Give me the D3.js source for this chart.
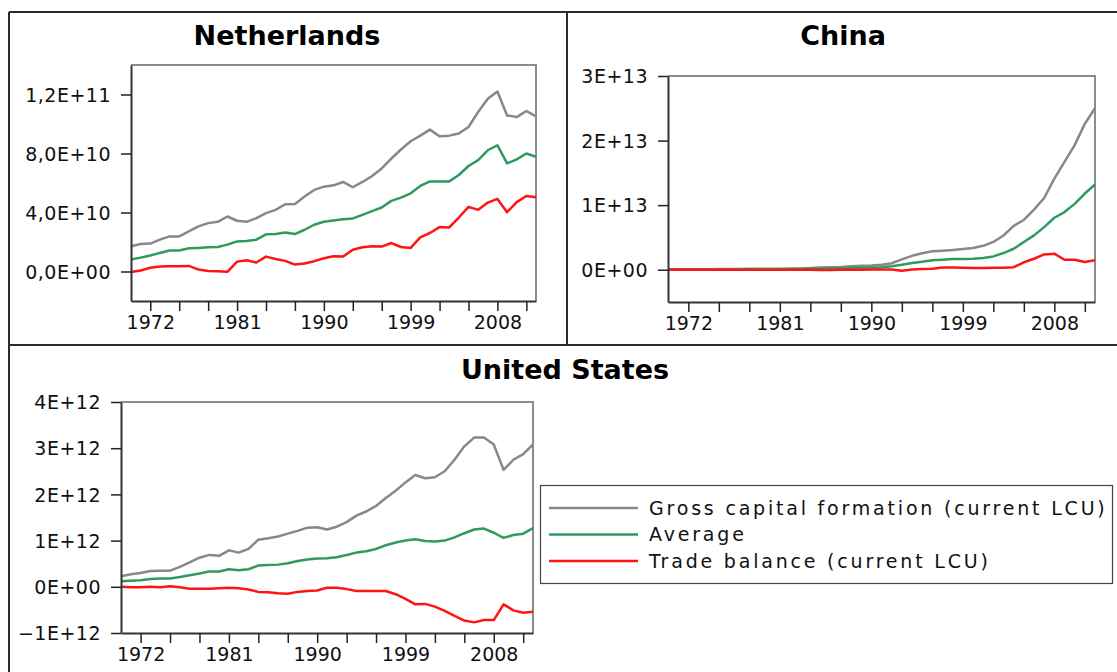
<!DOCTYPE html>
<html>
<head>
<meta charset="utf-8">
<script src="https://cdn.jsdelivr.net/npm/d3@7/dist/d3.min.js"></script>
<style>
  html, body { margin: 0; padding: 0; background: #ffffff; }
  svg { display: block; font-family: "DejaVu Sans", "Noto Sans", sans-serif; }
</style>
</head>
<body>
<svg id="chart" width="1117" height="672"></svg>
<script>
// ---------------- DATA ----------------
const years = [1970,1971,1972,1973,1974,1975,1976,1977,1978,1979,
               1980,1981,1982,1983,1984,1985,1986,1987,1988,1989,
               1990,1991,1992,1993,1994,1995,1996,1997,1998,1999,
               2000,2001,2002,2003,2004,2005,2006,2007,2008,2009,
               2010,2011,2012];

const seriesNames = ["Gross capital formation (current LCU)", "Average", "Trade balance (current LCU)"];

// Netherlands (current LCU)
const nlGross = [1.71e10,1.87e10,1.89e10,2.16e10,2.38e10,2.38e10,2.72e10,3.06e10,3.28e10,3.37e10,
                 3.73e10,3.44e10,3.37e10,3.62e10,3.96e10,4.18e10,4.56e10,4.58e10,5.08e10,5.53e10,
                 5.75e10,5.84e10,6.07e10,5.71e10,6.07e10,6.47e10,6.99e10,7.66e10,8.27e10,8.83e10,
                 9.21e10,9.62e10,9.17e10,9.21e10,9.35e10,9.80e10,1.081e11,1.171e11,1.220e11,1.058e11,
                 1.047e11,1.088e11,1.052e11];
const nlAverage = [0.81e10,0.94e10,1.08e10,1.26e10,1.42e10,1.42e10,1.57e10,1.60e10,1.64e10,1.66e10,
                   1.82e10,2.04e10,2.07e10,2.16e10,2.52e10,2.54e10,2.65e10,2.54e10,2.83e10,3.17e10,
                   3.37e10,3.46e10,3.55e10,3.60e10,3.84e10,4.09e10,4.34e10,4.79e10,5.01e10,5.30e10,
                   5.80e10,6.11e10,6.11e10,6.11e10,6.54e10,7.15e10,7.55e10,8.22e10,8.56e10,7.33e10,
                   7.60e10,8.00e10,7.78e10];
const nlTrade = [-0.04e10,0.07e10,0.25e10,0.34e10,0.36e10,0.36e10,0.38e10,0.13e10,0.04e10,0.02e10,
                 -0.02e10,0.67e10,0.76e10,0.61e10,1.01e10,0.85e10,0.72e10,0.47e10,0.54e10,0.70e10,
                 0.90e10,1.03e10,1.01e10,1.48e10,1.64e10,1.71e10,1.69e10,1.93e10,1.66e10,1.60e10,
                 2.31e10,2.61e10,3.01e10,2.99e10,3.66e10,4.38e10,4.18e10,4.67e10,4.92e10,4.02e10,
                 4.70e10,5.12e10,5.03e10];

// China (current LCU)
const cnGross = [0.07e12,0.08e12,0.08e12,0.09e12,0.09e12,0.10e12,0.10e12,0.10e12,0.14e12,0.15e12,
                 0.16e12,0.16e12,0.18e12,0.20e12,0.25e12,0.34e12,0.39e12,0.43e12,0.55e12,0.60e12,
                 0.65e12,0.77e12,1.00e12,1.60e12,2.15e12,2.55e12,2.85e12,2.95e12,3.05e12,3.20e12,
                 3.35e12,3.70e12,4.30e12,5.30e12,6.80e12,7.70e12,9.30e12,11.10e12,14.10e12,16.70e12,
                 19.30e12,22.60e12,25.00e12];
const cnAverage = [0.035e12,0.04e12,0.04e12,0.045e12,0.045e12,0.05e12,0.05e12,0.05e12,0.07e12,0.07e12,
                   0.08e12,0.08e12,0.09e12,0.10e12,0.12e12,0.15e12,0.18e12,0.21e12,0.27e12,0.29e12,
                   0.33e12,0.40e12,0.52e12,0.77e12,1.03e12,1.24e12,1.45e12,1.55e12,1.65e12,1.65e12,
                   1.70e12,1.80e12,2.06e12,2.58e12,3.25e12,4.28e12,5.32e12,6.60e12,8.05e12,8.93e12,
                   10.20e12,11.80e12,13.20e12];
const cnTrade = [0.00e12,0.00e12,0.00e12,0.00e12,0.00e12,0.00e12,0.00e12,0.00e12,0.00e12,-0.01e12,
                 -0.01e12,0.00e12,0.01e12,0.00e12,0.00e12,-0.04e12,-0.03e12,0.00e12,-0.01e12,-0.01e12,
                 0.04e12,0.05e12,0.03e12,-0.15e12,0.05e12,0.10e12,0.15e12,0.35e12,0.36e12,0.30e12,
                 0.25e12,0.26e12,0.31e12,0.30e12,0.40e12,1.15e12,1.70e12,2.37e12,2.48e12,1.55e12,
                 1.55e12,1.19e12,1.45e12];

// United States (current LCU)
const usGross = [0.23e12,0.27e12,0.30e12,0.34e12,0.35e12,0.35e12,0.43e12,0.53e12,0.63e12,0.69e12,
                 0.67e12,0.79e12,0.74e12,0.82e12,1.02e12,1.05e12,1.09e12,1.15e12,1.21e12,1.28e12,
                 1.29e12,1.24e12,1.30e12,1.40e12,1.54e12,1.63e12,1.75e12,1.92e12,2.08e12,2.26e12,
                 2.42e12,2.35e12,2.37e12,2.50e12,2.75e12,3.04e12,3.23e12,3.23e12,3.08e12,2.53e12,
                 2.75e12,2.87e12,3.08e12];
const usAverage = [0.12e12,0.13e12,0.14e12,0.17e12,0.18e12,0.18e12,0.21e12,0.25e12,0.29e12,0.33e12,
                   0.33e12,0.38e12,0.36e12,0.38e12,0.46e12,0.47e12,0.48e12,0.51e12,0.56e12,0.59e12,
                   0.61e12,0.62e12,0.64e12,0.69e12,0.74e12,0.77e12,0.82e12,0.90e12,0.96e12,1.00e12,
                   1.03e12,0.99e12,0.98e12,1.00e12,1.07e12,1.16e12,1.24e12,1.26e12,1.17e12,1.06e12,
                   1.12e12,1.15e12,1.27e12];
const usTrade = [0.00e12,-0.01e12,-0.01e12,0.00e12,-0.01e12,0.01e12,-0.01e12,-0.04e12,-0.04e12,-0.04e12,
                 -0.03e12,-0.02e12,-0.03e12,-0.06e12,-0.11e12,-0.12e12,-0.14e12,-0.15e12,-0.11e12,-0.09e12,
                 -0.08e12,-0.02e12,-0.02e12,-0.05e12,-0.09e12,-0.09e12,-0.09e12,-0.09e12,-0.16e12,-0.26e12,
                 -0.38e12,-0.37e12,-0.43e12,-0.52e12,-0.63e12,-0.73e12,-0.77e12,-0.72e12,-0.72e12,-0.38e12,
                 -0.51e12,-0.56e12,-0.54e12];

// Axis ticks
const xTickYears  = [1972,1975,1978,1981,1984,1987,1990,1993,1996,1999,2002,2005,2008,2011];
const xLabelYears = [1972,1981,1990,1999,2008];

const nlYTicks  = [0, 4e10, 8e10, 1.2e11];
const nlYLabels = ["0,0E+00", "4,0E+10", "8,0E+10", "1,2E+11"];
const cnYTicks  = [0, 1e13, 2e13, 3e13];
const cnYLabels = ["0E+00", "1E+13", "2E+13", "3E+13"];
const usYTicks  = [-1e12, 0, 1e12, 2e12, 3e12, 4e12];
const usYLabels = ["\u22121E+12", "0E+00", "1E+12", "2E+12", "3E+12", "4E+12"];

// ---------------- STYLE / LAYOUT ----------------
const colors = ["#888888", "#2e9a60", "#ff1414"];
const svg = d3.select("#chart");

const panels = [
  { title: "Netherlands", tx: 287, ty: 45,
    left: 131, right: 536, top: 65, bottom: 301,
    domain: [-2e10, 1.4e11], ticks: nlYTicks, labels: nlYLabels,
    series: [nlGross, nlAverage, nlTrade] },
  { title: "China", tx: 843, ty: 45,
    left: 668, right: 1095, top: 76, bottom: 302,
    domain: [-5e12, 3e13], ticks: cnYTicks, labels: cnYLabels,
    series: [cnGross, cnAverage, cnTrade] },
  { title: "United States", tx: 565, ty: 379,
    left: 121, right: 533, top: 402, bottom: 633,
    domain: [-1e12, 4e12], ticks: usYTicks, labels: usYLabels,
    series: [usGross, usAverage, usTrade] }
];

// Outer frame and dividers
const frame = svg.append("g").attr("stroke", "#2a2a2a").attr("stroke-width", 2).attr("fill", "none");
frame.append("line").attr("x1", 9).attr("y1", 12).attr("x2", 1117).attr("y2", 12);
frame.append("line").attr("x1", 9).attr("y1", 12).attr("x2", 9).attr("y2", 672);
frame.append("line").attr("x1", 567).attr("y1", 12).attr("x2", 567).attr("y2", 345);
frame.append("line").attr("x1", 9).attr("y1", 345).attr("x2", 1117).attr("y2", 345);

panels.forEach(p => {
  const g = svg.append("g");
  const x = d3.scaleLinear().domain([years[0], years[years.length - 1]]).range([p.left, p.right]);
  const y = d3.scaleLinear().domain(p.domain).range([p.bottom, p.top]);

  // title
  g.append("text")
    .attr("x", p.tx).attr("y", p.ty)
    .attr("text-anchor", "middle")
    .attr("font-size", 27).attr("font-weight", "bold")
    .attr("fill", "#000")
    .text(p.title);

  // top/right grey frame
  g.append("path")
    .attr("d", `M${p.left},${p.top}H${p.right}V${p.bottom}`)
    .attr("fill", "none").attr("stroke", "#8c8c8c").attr("stroke-width", 2);

  // series lines
  const line = d3.line().x((d, i) => x(years[i])).y(d => y(d));
  p.series.forEach((s, k) => {
    g.append("path")
      .datum(s)
      .attr("d", line)
      .attr("fill", "none")
      .attr("stroke", colors[k])
      .attr("stroke-width", 2.5)
      .attr("stroke-linejoin", "round");
  });

  // x axis
  const xa = g.append("g")
    .attr("transform", `translate(0,${p.bottom})`)
    .call(d3.axisBottom(x).tickValues(xTickYears).tickSize(10).tickSizeOuter(0).tickPadding(6)
      .tickFormat(d => xLabelYears.includes(d) ? String(d) : ""));
  xa.select(".domain").attr("stroke", "#333").attr("stroke-width", 2);
  xa.selectAll(".tick line").attr("stroke", "#222").attr("stroke-width", 1.5);
  xa.selectAll(".tick text")
    .attr("font-size", 19).attr("font-family", "DejaVu Sans")
    .attr("fill", "#111").attr("dy", null).attr("y", 28);

  // y axis
  const ya = g.append("g")
    .attr("transform", `translate(${p.left},0)`)
    .call(d3.axisLeft(y).tickValues(p.ticks).tickSize(10).tickSizeOuter(0).tickPadding(10)
      .tickFormat((d, i) => p.labels[i]));
  ya.select(".domain").attr("stroke", "#333").attr("stroke-width", 2);
  ya.selectAll(".tick line").attr("stroke", "#222").attr("stroke-width", 1.5);
  ya.selectAll(".tick text")
    .attr("font-size", 19).attr("font-family", "DejaVu Sans")
    .attr("fill", "#111").attr("dy", "0.35em").attr("x", -20)
    .attr("letter-spacing", 0.5);
});

// Legend
const lg = svg.append("g");
lg.append("rect")
  .attr("x", 540.5).attr("y", 485.5).attr("width", 572).attr("height", 98)
  .attr("fill", "#fff").attr("stroke", "#444").attr("stroke-width", 1.2);
seriesNames.forEach((name, k) => {
  const cy = 508 + k * 26.5;
  lg.append("line")
    .attr("x1", 549).attr("x2", 638).attr("y1", cy).attr("y2", cy)
    .attr("stroke", colors[k]).attr("stroke-width", 2.5);
  lg.append("text")
    .attr("x", 649).attr("y", cy + 6.5)
    .attr("font-size", 19).attr("letter-spacing", 2.8)
    .attr("fill", "#111")
    .text(name);
});
</script>
</body>
</html>
